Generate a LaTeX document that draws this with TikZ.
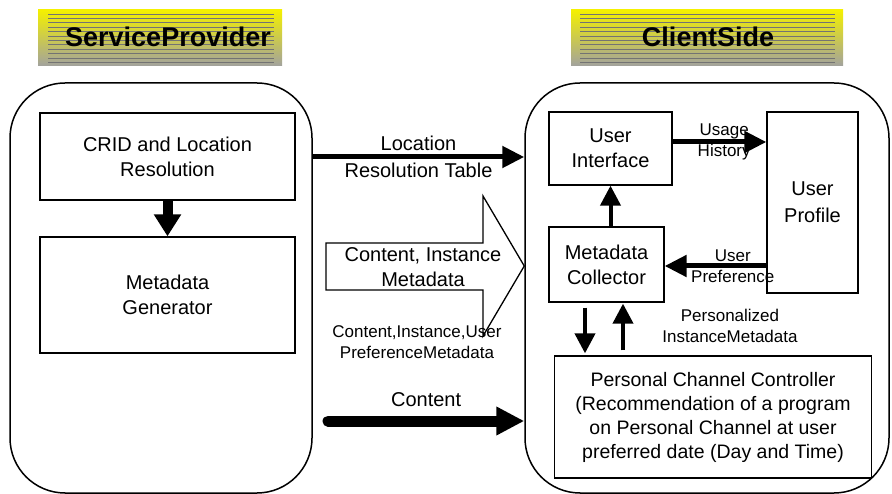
\documentclass[tikz,border=0pt]{standalone}
\usepackage{fontspec}
\setmainfont{Liberation Sans}
\usetikzlibrary{arrows.meta,positioning,calc}
\definecolor{bannertop}{RGB}{244,240,0}
\definecolor{bannerbot}{RGB}{162,162,158}
\newcommand{\boxfont}{\fontsize{20}{25}\selectfont}
\newcommand{\lblfont}{\fontsize{17}{21}\selectfont}
\newcommand{\bannerfont}{\fontsize{27}{30}\selectfont\bfseries}
\tikzstyle{side}=[rectangle,draw,line width=1.5pt,rounded corners=55pt]
\tikzstyle{block}=[rectangle,draw,line width=1.3pt,fill=white,align=center,
font=\boxfont,inner sep=2pt]
\tikzstyle{banner}=[rectangle,top color=bannertop,bottom color=bannerbot]
\tikzstyle{hatch}=[line width=0.7pt,black!55]
\tikzstyle{thinflow}=[line width=4pt,-{Triangle[length=20pt,width=20pt]}]
\tikzstyle{midflow}=[line width=5pt,-{Triangle[length=22pt,width=21pt]}]
\tikzstyle{fatflow}=[line width=10pt,-{Triangle[length=22pt,width=26pt]}]
\tikzstyle{bigflow}=[line width=11pt,line cap=round,-{Triangle[length=28pt,width=27pt]}]

\begin{document}
\begin{tikzpicture}[x=1pt,y=-1pt]
            \useasboundingbox (0,0) rectangle (892,494);

            % Banners

            \node[banner,minimum width=244,minimum height=56] (spt) at (160,38) {};
            \node[banner,minimum width=272,minimum height=56] (cst) at (707,38) {};
            \foreach \y in {14,18.4,...,63}
            {
              \draw[hatch] (48,\y) -- (274,\y);
              \draw[hatch] (580,\y) -- (835,\y);
            }
            \node[font=\bannerfont] at (168,37) {ServiceProvider};
            \node[font=\bannerfont] at (708,37) {ClientSide};

            % ServiceProvider PART

            \node[side,minimum width=302,minimum height=410] (sp) at (161,288) {};
            \node[block,minimum width=255,minimum height=87] (crid) at (167.5,156.5)
              {CRID and Location\\Resolution};
            \node[block,minimum width=255,minimum height=116] (mgen) at (167.5,295)
              {Metadata\\Generator};

            \path[fatflow] (crid) edge (mgen);

            % ClientSide PART

            \node[side,minimum width=364,minimum height=410] (cs) at (707,288) {};
            \node[block,minimum width=123,minimum height=73] (ui) at (610.5,148.5)
              {User\\Interface};
            \node[block,minimum width=91,minimum height=181] (up) at (812.5,202.5)
              {\rule{0pt}{0pt}User\\[2pt]Profile};
            \node[block,minimum width=115,minimum height=75] (mc) at (606.5,264.5)
              {Metadata\\Collector};
            \node[block,minimum width=317,minimum height=122,
              font={\fontsize{19.5}{24}\selectfont}] (pcc) at (713,417)
              {Personal Channel Controller\\(Recommendation of a program\\
               on Personal Channel at user\\preferred date (Day and Time)};

            \path[thinflow] (mc.north -| ui) edge (ui.south);
            \path[midflow] (ui.east |- 0,142) edge
              node[pos=0.55,font=\lblfont,align=center] {Usage\\History} (up.west |- 0,142);
            \path[midflow] (up.west |- 0,266) edge
              node[pos=0.33,font=\lblfont,align=center] {User\\Preference} (mc.east |- 0,266);
            \path[thinflow,shorten <=5pt,shorten >=2pt] (mc.south -| 585,0) edge (pcc.north -| 585,0);
            \path[thinflow,shorten <=5pt,shorten >=1pt] (pcc.north -| 623,0) edge (mc.south -| 623,0);
            \node[font=\lblfont,align=center] (pim) at (730,326)
              {Personalized\\InstanceMetadata};

            % Connections of Sides

            \path[midflow] (sp.east |- 0,157) edge
              node[font=\boxfont,align=center] {Location\\[2pt]Resolution Table} (cs.west |- 0,157);
            \draw[line width=1.3pt,fill=white] (326,243) -- (483,243) -- (483,196)
              -- (cs.west |- 0,266) -- (483,336) -- (483,290) -- (326,290) -- cycle;
            \node[font=\boxfont,align=center] (cim) at (423,267.5)
              {Content, Instance\\Metadata};
            \node[font=\lblfont,align=center] (cium) at (417,342)
              {Content,Instance,User\\PreferenceMetadata};
            \coordinate (cstart) at (328,421);
            \path[bigflow] (cstart) edge
              node[above=5pt,font=\boxfont] {Content} (cs.west |- cstart);

        \end{tikzpicture}
\end{document}
